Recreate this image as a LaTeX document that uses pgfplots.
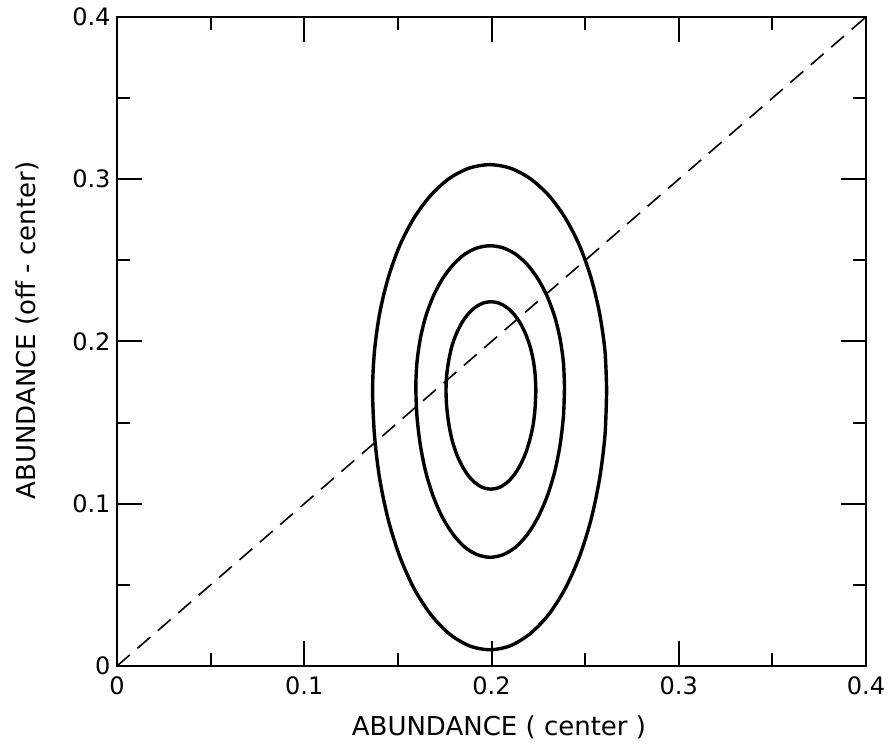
\documentclass[border=0pt]{standalone}
\usepackage{pgfplots}
\pgfplotsset{compat=1.18}
\usepackage{fontspec}
\setmainfont{DejaVu Sans}
\begin{document}
\begin{tikzpicture}
\begin{axis}[
  scale only axis, width=749pt, height=649pt,
  xmin=0, xmax=0.4, ymin=0, ymax=0.4,
  xtick={0,0.1,0.2,0.3,0.4}, ytick={0,0.1,0.2,0.3,0.4},
  xticklabels={0,0.1,0.2,0.3,0.4}, yticklabels={0,0.1,0.2,0.3,0.4},
  minor tick num=1,
  tick align=inside,
  major tick length=25pt, minor tick length=13pt,
  tick style={line width=2pt, black},
  axis line style={line width=2.4pt},
  ticklabel style={font=\fontsize{24}{28}\selectfont},
  xlabel={ABUNDANCE ( center )},
  ylabel={ABUNDANCE (off - center)},
  every axis x label/.style={at={(axis description cs:0.51,0)}, yshift=-61pt, anchor=center, font=\fontsize{26}{30}\selectfont},
  every axis y label/.style={at={(axis description cs:0,0.517)}, xshift=-90pt, rotate=90, anchor=center, font=\fontsize{26}{30}\selectfont},
  xticklabel style={yshift=-7pt},
  yticklabel style={xshift=-3pt},
  clip=false,
]
\addplot[black, line width=1.6pt, dash pattern=on 17pt off 10pt] coordinates {(0,0) (0.4,0.4)};
% outer
\addplot[black, line width=3.4pt, smooth] coordinates {
(0.2615,0.170) (0.2606,0.1941) (0.2577,0.2175) (0.2531,0.2395) (0.2469,0.2594) (0.2392,0.2765) (0.2303,0.2904) (0.2204,0.3006) (0.2099,0.3069) (0.199,0.309) (0.1882,0.3069) (0.1776,0.3006) (0.1678,0.2904) (0.1588,0.2765) (0.1511,0.2594) (0.1449,0.2395) (0.1403,0.2175) (0.1375,0.1941) (0.1365,0.170) (0.1375,0.1422) (0.1403,0.1153) (0.1449,0.090) (0.1511,0.0672) (0.1588,0.0474) (0.1678,0.0314) (0.1776,0.0197) (0.1882,0.0124) (0.199,0.010) (0.2099,0.0124) (0.2204,0.0197) (0.2303,0.0314) (0.2392,0.0474) (0.2469,0.0672) (0.2531,0.090) (0.2577,0.1153) (0.2606,0.1422) (0.2615,0.170)
} -- cycle;
% middle
\addplot[black, line width=3.4pt, smooth] coordinates {
(0.2390,0.172) (0.2384,0.1871) (0.2366,0.2018) (0.2337,0.2155) (0.2297,0.2279) (0.2248,0.2386) (0.2192,0.2473) (0.2129,0.2538) (0.2062,0.2577) (0.1993,0.259) (0.1924,0.2577) (0.1857,0.2538) (0.1795,0.2473) (0.1738,0.2386) (0.1689,0.2279) (0.1649,0.2155) (0.1620,0.2018) (0.1602,0.1871) (0.1596,0.172) (0.1602,0.1538) (0.1620,0.1361) (0.1649,0.1195) (0.1689,0.1045) (0.1738,0.0916) (0.1795,0.0811) (0.1857,0.0733) (0.1924,0.0686) (0.1993,0.067) (0.2062,0.0686) (0.2129,0.0733) (0.2192,0.0811) (0.2248,0.0916) (0.2297,0.1045) (0.2337,0.1195) (0.2366,0.1361) (0.2384,0.1538) (0.2390,0.172)
} -- cycle;
% inner
\addplot[black, line width=3.4pt, smooth] coordinates {
(0.2237,0.170) (0.2233,0.1795) (0.2223,0.1886) (0.2205,0.1973) (0.2181,0.2050) (0.2151,0.2118) (0.2117,0.2172) (0.2079,0.2212) (0.2039,0.2237) (0.1997,0.2245) (0.1955,0.2237) (0.1915,0.2212) (0.1877,0.2172) (0.1843,0.2118) (0.1813,0.2050) (0.1789,0.1973) (0.1772,0.1886) (0.1761,0.1795) (0.1757,0.170) (0.1761,0.1594) (0.1772,0.1491) (0.1789,0.1395) (0.1813,0.1308) (0.1843,0.1233) (0.1877,0.1172) (0.1915,0.1127) (0.1955,0.1099) (0.1997,0.109) (0.2039,0.1099) (0.2079,0.1127) (0.2117,0.1172) (0.2151,0.1233) (0.2181,0.1308) (0.2205,0.1395) (0.2223,0.1491) (0.2233,0.1594) (0.2237,0.170)
} -- cycle;
\end{axis}
\pgfresetboundingbox
\path[use as bounding box] ([shift={(-117pt,-78pt)}]current axis.south west) rectangle ([shift={(24pt,17pt)}]current axis.north east);
\end{tikzpicture}
\end{document}
